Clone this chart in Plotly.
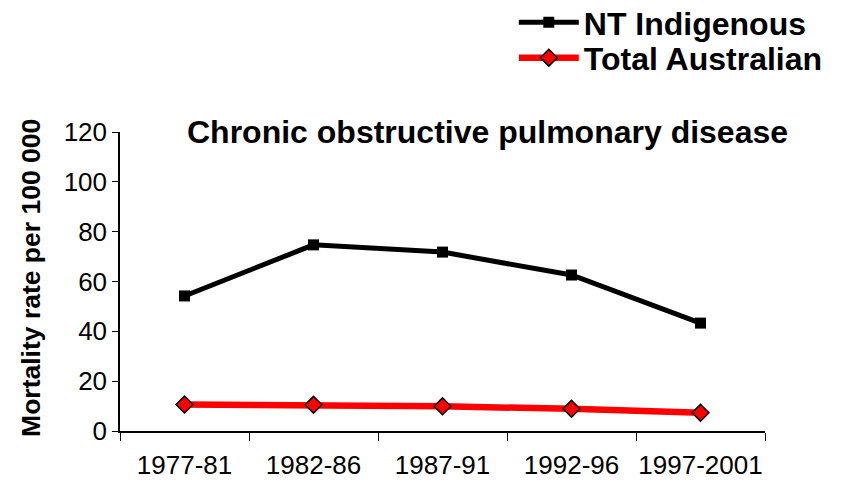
import plotly.graph_objects as go

periods = ["1977-81", "1982-86", "1987-91", "1992-96", "1997-2001"]
nt_indigenous = [54.2, 74.7, 71.8, 62.6, 43.3]
total_australian = [10.6, 10.5, 9.9, 8.9, 7.3]
y_ticks = [0, 20, 40, 60, 80, 100, 120]

font_family = "Liberation Sans, Arial, sans-serif"
legend_font = dict(size=32, family=font_family, color="black", weight="bold")

fig = go.Figure()
fig.add_trace(go.Scatter(
    x=periods, y=nt_indigenous, name="NT Indigenous", mode="lines+markers",
    line=dict(color="black", width=5),
    marker=dict(symbol="square", size=11, color="black"),
    legend="legend",
))
fig.add_trace(go.Scatter(
    x=periods, y=total_australian, name="Total Australian", mode="lines+markers",
    line=dict(color="#ff0000", width=6.5),
    marker=dict(symbol="diamond", size=13, color="#ff0000", line=dict(color="black", width=1.5)),
    legend="legend2",
))

fig.update_layout(
    width=843, height=484,
    margin=dict(l=112, r=86, t=124, b=61, autoexpand=False),
    paper_bgcolor="white", plot_bgcolor="white",
    font=dict(family=font_family, color="black"),
    showlegend=True,
    legend=dict(
        xref="container", yref="paper", x=0.6, y=1.458, xanchor="left", yanchor="top",
        font=legend_font, itemwidth=60, bgcolor="rgba(0,0,0,0)",
    ),
    legend2=dict(
        xref="container", yref="paper", x=0.6, y=1.34, xanchor="left", yanchor="top",
        font=legend_font, itemwidth=60, bgcolor="rgba(0,0,0,0)",
    ),
    annotations=[
        dict(
            text="<b>Chronic obstructive pulmonary disease</b>",
            xref="paper", yref="paper", x=0.57, y=1.0, xanchor="center", yanchor="middle",
            showarrow=False, font=dict(size=32, family=font_family, color="black"),
        ),
        dict(
            text="<b>Mortality rate per 100 000</b>", textangle=-90,
            xref="paper", yref="paper", x=-0.138, y=0.512, xanchor="center", yanchor="middle",
            showarrow=False, font=dict(size=26.5, family=font_family, color="black"),
        ),
    ],
)
fig.update_xaxes(
    type="category", showline=True, linecolor="black", linewidth=1.5,
    ticks="outside", tickson="boundaries", ticklen=8, tickcolor="black",
    showgrid=False, tickangle=0, ticklabelstandoff=10,
    tickfont=dict(size=26, family=font_family, color="black"),
    range=[-0.5, 4.5],
)
fig.update_yaxes(
    range=[0, 120], tickvals=y_ticks, showline=True, linecolor="black", linewidth=1.5,
    ticks="outside", ticklen=6, tickcolor="black", showgrid=False, zeroline=False,
    tickfont=dict(size=26, family=font_family, color="black"),
)

fig.write_html("out.html")
